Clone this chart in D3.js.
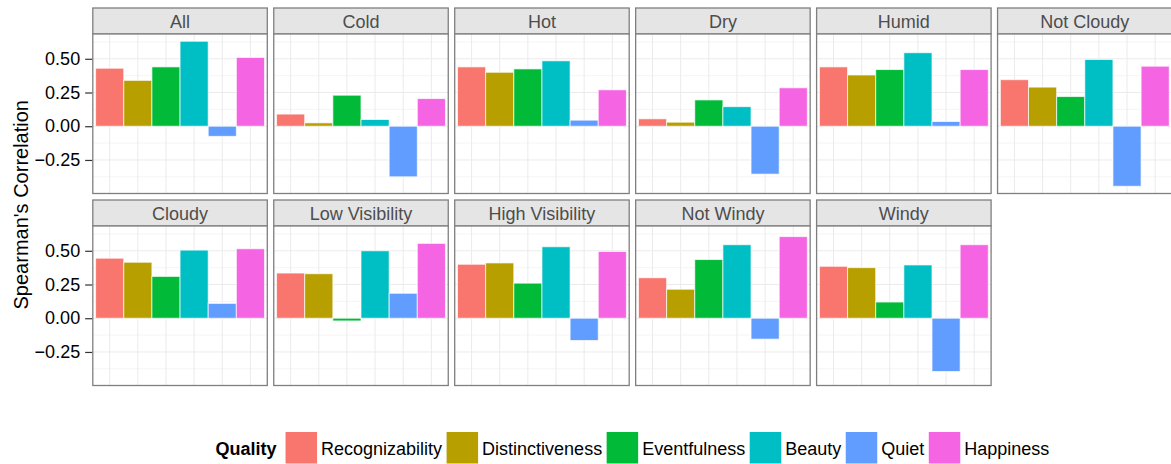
<!DOCTYPE html>
<html>
<head>
<meta charset="utf-8">
<script src="https://cdn.jsdelivr.net/npm/d3@7"></script>
<style>
  html, body { margin: 0; padding: 0; background: #fff; }
  svg { display: block; font-family: "Liberation Sans", Arial, Helvetica, sans-serif; }
</style>
</head>
<body>
<svg id="chart" width="1171" height="464"></svg>
<script>
// Weather conditions, one facet each
const conditions = ["All", "Cold", "Hot", "Dry", "Humid", "Not Cloudy",
                    "Cloudy", "Low Visibility", "High Visibility", "Not Windy", "Windy"];

// Perceived qualities (bars within each facet)
const qualities = ["Recognizability", "Distinctiveness", "Eventfulness", "Beauty", "Quiet", "Happiness"];
const qualityColors = ["#F8766D", "#B79F00", "#00BA38", "#00BFC4", "#619CFF", "#F564E3"];

// Spearman's correlation per quality, in the order of `conditions`
const recognizability = [0.43, 0.09, 0.44, 0.055, 0.44, 0.345, 0.445, 0.335, 0.40, 0.30, 0.385];
const distinctiveness = [0.34, 0.025, 0.40, 0.03, 0.38, 0.29, 0.415, 0.33, 0.41, 0.215, 0.375];
const eventfulness    = [0.44, 0.23, 0.425, 0.195, 0.42, 0.22, 0.31, -0.02, 0.26, 0.435, 0.12];
const beauty          = [0.63, 0.05, 0.485, 0.145, 0.545, 0.495, 0.505, 0.50, 0.53, 0.545, 0.395];
const quiet           = [-0.075, -0.375, 0.045, -0.355, 0.035, -0.445, 0.11, 0.185, -0.165, -0.155, -0.395];
const happiness       = [0.51, 0.205, 0.27, 0.285, 0.42, 0.445, 0.515, 0.555, 0.495, 0.605, 0.545];

const yTicks = [-0.25, 0, 0.25, 0.5];
const yMinorTicks = [-0.375, -0.125, 0.125, 0.375, 0.625];
const yTitle = "Spearman's Correlation";
const legendTitle = "Quality";

// Long-format rows built from the series
const series = [recognizability, distinctiveness, eventfulness, beauty, quiet, happiness];
const rows = [];
conditions.forEach((c, ci) => {
  qualities.forEach((q, qi) => rows.push({ condition: c, quality: q, value: series[qi][ci] }));
});

// ---- layout ----
const svg = d3.select("#chart");
const nCols = 6;
const panelLeft0 = 92.8, colPitch = 180.95, panelW = 174.5;
const stripTop0 = 8, stripH = 26, panelH = 159.5, rowPitch = 192;
const fontSmall = 18;

// shared scales
const x = d3.scaleBand().domain(qualities).range([0, panelW]).paddingInner(0).paddingOuter(0.1);
const ext = d3.extent(rows.map(d => d.value).concat([0]));
const pad = (ext[1] - ext[0]) * 0.05;
const y = d3.scaleLinear().domain([ext[0] - pad, ext[1] + pad]).range([panelH, 0]);
const color = d3.scaleOrdinal().domain(qualities).range(qualityColors);

conditions.forEach((cond, i) => {
  const col = i % nCols, row = Math.floor(i / nCols);
  const px = panelLeft0 + col * colPitch;
  const sy = stripTop0 + row * rowPitch;
  const py = sy + stripH;

  // strip
  const strip = svg.append("g").attr("transform", `translate(${px},${sy})`);
  strip.append("rect").attr("width", panelW).attr("height", stripH)
    .attr("fill", "#e5e5e5").attr("stroke", "#7f7f7f").attr("stroke-width", 1.3);
  strip.append("text").attr("x", panelW / 2).attr("y", stripH / 2 + 1)
    .attr("text-anchor", "middle").attr("dominant-baseline", "central")
    .attr("font-size", fontSmall).attr("fill", "#4d4d4d").text(cond);

  const g = svg.append("g").attr("transform", `translate(${px},${py})`);
  g.append("rect").attr("width", panelW).attr("height", panelH).attr("fill", "#fff");

  // grid
  g.selectAll(".minor").data(yMinorTicks.filter(t => t >= y.domain()[0] && t <= y.domain()[1]))
    .join("line").attr("x1", 0).attr("x2", panelW)
    .attr("y1", d => y(d)).attr("y2", d => y(d))
    .attr("stroke", "#f5f5f5").attr("stroke-width", 1);
  g.selectAll(".major").data(yTicks).join("line")
    .attr("x1", 0).attr("x2", panelW)
    .attr("y1", d => y(d)).attr("y2", d => y(d))
    .attr("stroke", "#ebebeb").attr("stroke-width", 1);
  g.selectAll(".vgrid").data(qualities).join("line")
    .attr("x1", d => x(d) + x.bandwidth() / 2).attr("x2", d => x(d) + x.bandwidth() / 2)
    .attr("y1", 0).attr("y2", panelH)
    .attr("stroke", "#ebebeb").attr("stroke-width", 1);

  // bars
  g.selectAll(".bar").data(rows.filter(r => r.condition === cond)).join("rect")
    .attr("x", d => x(d.quality))
    .attr("width", x.bandwidth())
    .attr("y", d => y(Math.max(0, d.value)))
    .attr("height", d => Math.abs(y(d.value) - y(0)))
    .attr("fill", d => color(d.quality))
    .attr("stroke", "rgba(255,255,255,0.7)").attr("stroke-width", 1);

  // panel border
  g.append("rect").attr("width", panelW).attr("height", panelH)
    .attr("fill", "none").attr("stroke", "#7f7f7f").attr("stroke-width", 1.3);

  // y axis on the first column
  if (col === 0) {
    const ax = svg.append("g").attr("transform", `translate(${px - 0.65},${py})`)
      .call(d3.axisLeft(y).tickValues(yTicks).tickFormat(d3.format(".2f")).tickSize(7).tickPadding(5));
    ax.select(".domain").remove();
    ax.selectAll(".tick line").attr("stroke", "#333").attr("stroke-width", 1.2);
    ax.selectAll(".tick text").attr("font-size", fontSmall).attr("fill", "#000")
      .attr("font-family", "Liberation Sans, Arial, sans-serif");
  }
});

// y axis title
const panelsTop = stripTop0, panelsBottom = stripTop0 + rowPitch + stripH + panelH;
svg.append("text")
  .attr("transform", `translate(28,${(panelsTop + panelsBottom) / 2 + 8}) rotate(-90)`)
  .attr("text-anchor", "middle").attr("font-size", 20).attr("fill", "#000")
  .text(yTitle);

// legend, centred under the panel area
const legend = svg.append("g");
const keySize = 31.5, keyY = 432, textY = keyY + keySize / 2 + 1;
const lt = legend.append("text").attr("y", textY).attr("dominant-baseline", "central")
  .attr("font-size", fontSmall).attr("font-weight", "bold").text(legendTitle);
let cx = lt.node().getComputedTextLength() + 9;
qualities.forEach(q => {
  legend.append("rect").attr("x", cx).attr("y", keyY).attr("width", keySize).attr("height", keySize)
    .attr("fill", color(q));
  cx += keySize + 4;
  const t = legend.append("text").attr("x", cx).attr("y", textY).attr("dominant-baseline", "central")
    .attr("font-size", fontSmall).text(q);
  cx += t.node().getComputedTextLength() + 4.5;
});
const legendW = cx - 4.5;
const areaCenter = (panelLeft0 + panelLeft0 + (nCols - 1) * colPitch + panelW) / 2;
legend.attr("transform", `translate(${areaCenter - legendW / 2},0)`);
</script>
</body>
</html>
